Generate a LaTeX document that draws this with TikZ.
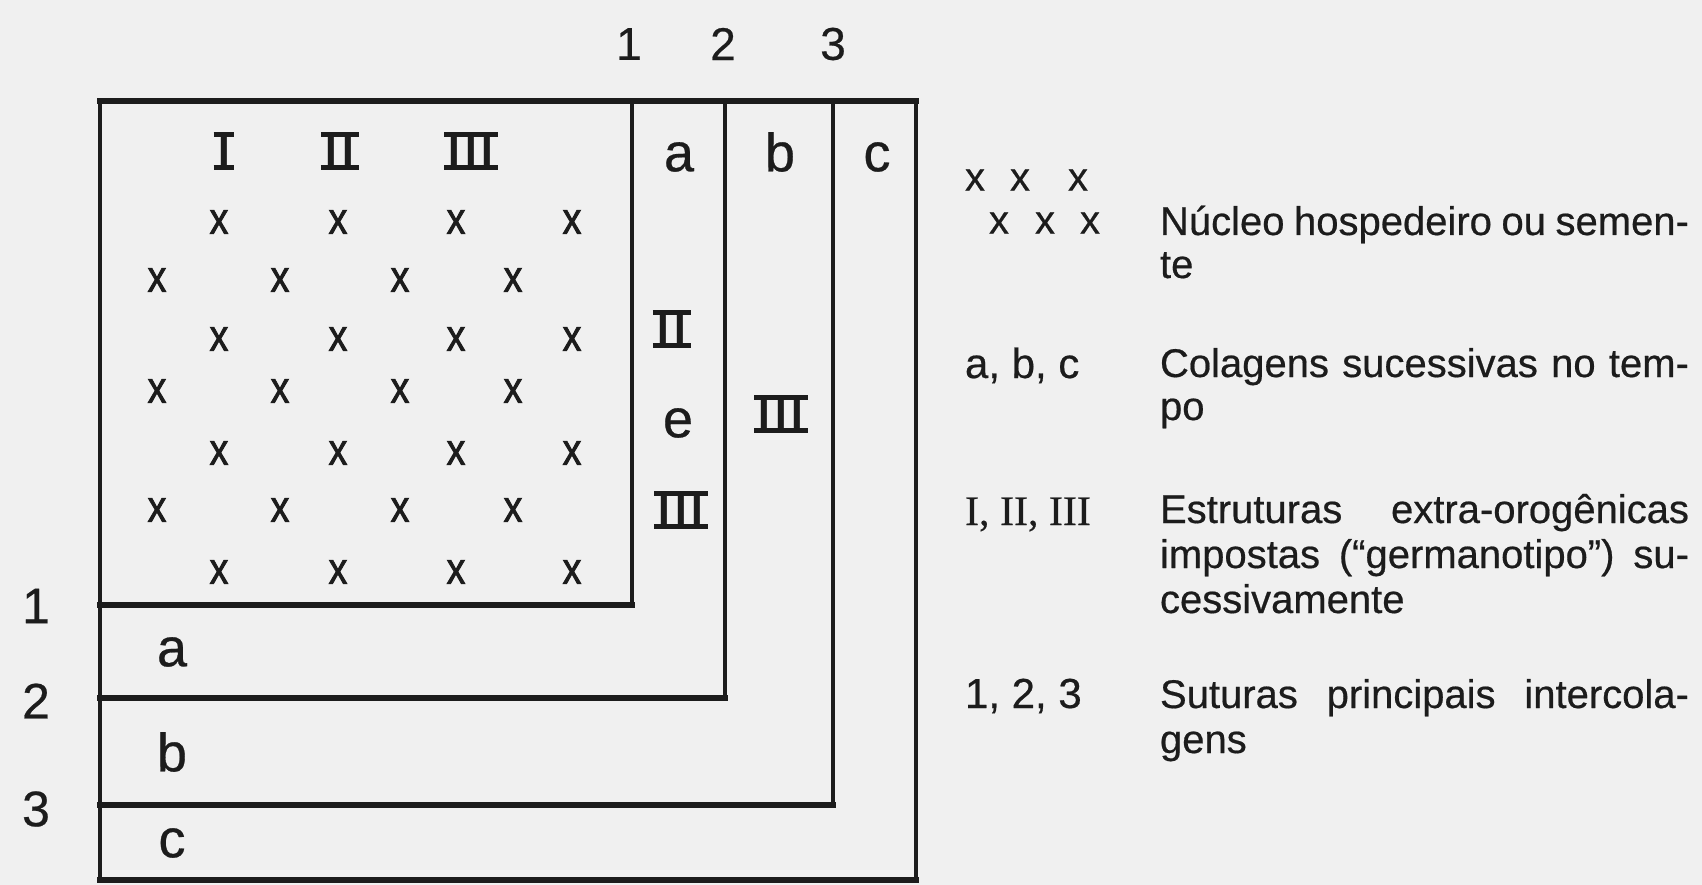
\documentclass[tikz,border=0pt]{standalone}
\usepackage{fontspec}
\setmainfont{Liberation Sans}
\newfontfamily\legserif{Liberation Serif}[FakeBold=0.4]
\newfontfamily\heavysans{Liberation Sans}[FakeBold=0.5]
\newfontfamily\xfont{Liberation Sans}[FakeBold=2]
\definecolor{ink}{RGB}{28,28,28}
\definecolor{paper}{RGB}{240,240,240}
\newbox\rnbox
\newdimen\rnw
\newcommand{\rnum}[1]{\setbox\rnbox=\hbox{\fontsize{42}{42}\selectfont\bfseries #1}%
  \rnw=\dimexpr\wd\rnbox+9pt\relax
  \vbox{\hrule height 5pt width \rnw \hbox to \rnw{\hss\box\rnbox\hss}\hrule height 5pt width \rnw}}
\tikzset{
  lbl/.style={inner sep=0pt, outer sep=0pt, text=ink},
  xm/.style={lbl, font=\fontsize{44}{46}\xfont},
  legx/.style={lbl, font=\fontsize{40}{42}\heavysans},
  lett/.style={lbl, font=\fontsize{54}{56}\heavysans},
  topdig/.style={lbl, font=\fontsize{46}{48}\heavysans},
  sidedig/.style={lbl, font=\fontsize{50}{52}\heavysans},
  rn/.style={lbl},
  legkey/.style={lbl, anchor=base west, font=\fontsize{42}{44}\heavysans},
  legtxt/.style={lbl, anchor=base west, font=\fontsize{40}{48}\heavysans},
  vline/.style={draw=ink, line width=4pt, line cap=rect},
  hline/.style={draw=ink, line width=5.5pt, line cap=rect},
}
\newcommand{\full}[1]{\makebox[529pt][s]{#1}}
\newcommand{\xmk}{\scalebox{0.85}[1]{x}}
\begin{document}
\begin{tikzpicture}[x=1pt,y=-1pt]
\useasboundingbox (0,0) rectangle (1702,885);
\fill[paper] (0,0) rectangle (1702,885);

% frames
\draw[vline] (100,101) -- (100,880);
\draw[hline, line width=6pt] (100,101) -- (916,101);
\draw[vline] (916,101) -- (916,880);
\draw[hline] (100,880) -- (916,880);
\draw[vline] (632,101) -- (632,605);
\draw[hline] (100,605) -- (632,605);
\draw[vline] (725,101) -- (725,698);
\draw[hline] (100,698) -- (725,698);
\draw[vline] (833,101) -- (833,805);
\draw[hline] (100,805) -- (833,805);

% suture numbers
\node[topdig] (t1) at (629,44) {1};
\node[topdig] (t2) at (723,44) {2};
\node[topdig] (t3) at (833,44) {3};
\node[sidedig] (s1) at (36,606) {1};
\node[sidedig] (s2) at (36,701) {2};
\node[sidedig] (s3) at (36,809) {3};

% collage letters
\node[lett] (ta) at (679,157) {a};
\node[lett] (tb) at (780,152) {b};
\node[lett] (tc) at (877,157) {c};
\node[lett] (ba) at (172,652) {a};
\node[lett] (bb) at (172,752) {b};
\node[lett] (bc) at (172,843) {c};
\node[lett] (e) at (678,423) {e};

% roman numerals
\node[rn] (r1) at (224,151) {\rnum{I}};
\node[rn] (r2) at (340,151) {\rnum{I\kern6pt I}};
\node[rn] (r3) at (471,151) {\rnum{I\kern5pt I\kern5pt I}};
\node[rn] (ra2) at (672,329) {\rnum{I\kern6pt I}};
\node[rn] (ra3) at (681,510) {\rnum{I\kern5pt I\kern5pt I}};
\node[rn] (rb3) at (781,414) {\rnum{I\kern5pt I\kern5pt I}};

% nucleus x marks
\foreach \r/\yy in {A/222, C/339, E/453, G/572}{
  \foreach \c/\xx in {1/219, 2/338, 3/456, 4/572}{
    \node[xm] (x\r\c) at (\xx,\yy) {\xmk};
  }
}
\foreach \r/\yy in {B/280, D/391, F/510}{
  \foreach \c/\xx in {1/157, 2/280, 3/400, 4/513}{
    \node[xm] (x\r\c) at (\xx,\yy) {\xmk};
  }
}

% legend keys
\node[legx] (lx1) at (975,180) {x};
\node[legx] (lx2) at (1020,180) {x};
\node[legx] (lx3) at (1078,180) {x};
\node[legx] (lx4) at (999,223) {x};
\node[legx] (lx5) at (1045,223) {x};
\node[legx] (lx6) at (1090,223) {x};
\node[legkey] (k1) at (965,378) {a, b, c};
\node[legkey, font=\fontsize{42}{44}\legserif] (k2) at (965,525) {I, II, III};
\node[legkey] (k3) at (965,708) {1, 2, 3};

% legend texts
\node[legtxt] (n1) at (1160,235) {\full{Núcleo hospedeiro ou semen-}};
\node[legtxt] (n2) at (1160,278) {te};
\node[legtxt] (c1) at (1160,377) {\full{Colagens sucessivas no tem-}};
\node[legtxt] (c2) at (1160,420) {po};
\node[legtxt] (e1) at (1160,523) {\full{Estruturas extra-orogênicas}};
\node[legtxt] (e2) at (1160,568) {\full{impostas (“germanotipo”) su-}};
\node[legtxt] (e3) at (1160,613) {cessivamente};
\node[legtxt] (u1) at (1160,708) {\full{Suturas principais intercola-}};
\node[legtxt] (u2) at (1160,753) {gens};
\end{tikzpicture}
\end{document}
